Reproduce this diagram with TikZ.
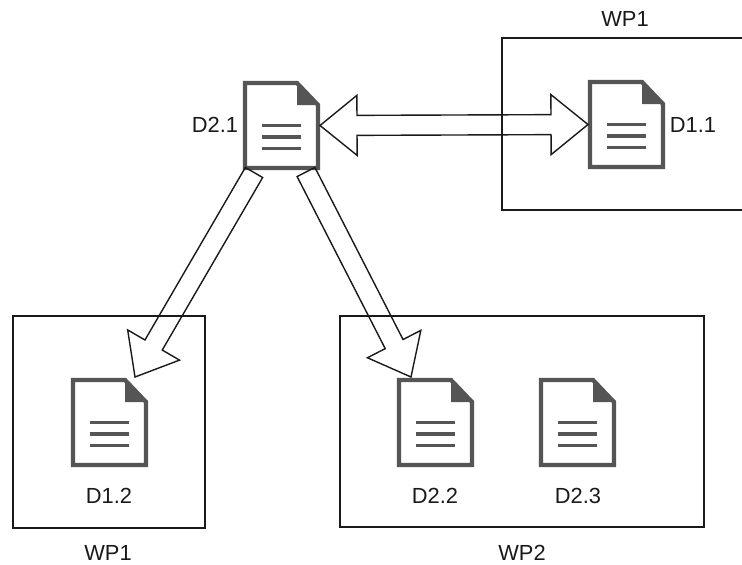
\documentclass[tikz,border=0pt]{standalone}
\usepackage{fontspec}
\setmainfont{Liberation Sans}
\usetikzlibrary{calc}
\definecolor{icongrey}{HTML}{555555}
\definecolor{inkgrey}{HTML}{1A1A1A}
\newcommand{\HdBase}[3]{($($(#1)!27.75pt!(#2)$)!#3!90:(#2)$)}
\tikzset{
  x=0.75pt,y=-0.75pt,
  wpbox/.style={draw=inkgrey,line width=1.05pt,minimum width=0pt,inner sep=0pt,outer sep=0pt},
  lbl/.style={font=\fontsize{16.4}{19}\selectfont,text=inkgrey,inner sep=0pt},
  iconbox/.style={minimum width=57.75pt,minimum height=66.75pt,inner sep=0pt,outer sep=0pt},
  docicon/.pic={
    \node[iconbox] (-box) at (38.5,44.5) {};
    \draw[icongrey,line width=3.2pt,miter limit=3,fill=white] (2,2) -- (54,2) -- (75,24) -- (75,87) -- (2,87) -- cycle;
    \fill[icongrey] (54,2) -- (75,24) -- (54,24) -- cycle;
    \draw[icongrey,line width=2.6pt] (19,44.5) -- (58,44.5) (19,56) -- (58,56) (19,67.5) -- (58,67.5);
  },
  blockarrow/.style={draw=inkgrey,line width=1.05pt,line join=miter,to path={
    -- ($(\tikztostart)!7.5pt!90:(\tikztotarget)$)
    -- \HdBase{\tikztotarget}{\tikztostart}{-7.5pt}
    -- \HdBase{\tikztotarget}{\tikztostart}{-22.5pt}
    -- (\tikztotarget)
    -- \HdBase{\tikztotarget}{\tikztostart}{22.5pt}
    -- \HdBase{\tikztotarget}{\tikztostart}{7.5pt}
    -- ($(\tikztostart)!7.5pt!-90:(\tikztotarget)$)
    -- cycle}},
  twowayarrow/.style={draw=inkgrey,line width=1.05pt,line join=miter,to path={
    -- \HdBase{\tikztostart}{\tikztotarget}{22.5pt}
    -- \HdBase{\tikztostart}{\tikztotarget}{7.5pt}
    -- \HdBase{\tikztotarget}{\tikztostart}{-7.5pt}
    -- \HdBase{\tikztotarget}{\tikztostart}{-22.5pt}
    -- (\tikztotarget)
    -- \HdBase{\tikztotarget}{\tikztostart}{22.5pt}
    -- \HdBase{\tikztotarget}{\tikztostart}{7.5pt}
    -- \HdBase{\tikztostart}{\tikztotarget}{-7.5pt}
    -- \HdBase{\tikztostart}{\tikztotarget}{-22.5pt}
    -- cycle}},
}
\begin{document}
\begin{tikzpicture}
\useasboundingbox (0,0) rectangle (742,564);
\fill[white] (0,0) rectangle (742,564);
% work-package frames
\node[wpbox,anchor=north west,minimum width=183pt,minimum height=129pt] (boxa) at (502,38) {};
\node[wpbox,anchor=north west,minimum width=144pt,minimum height=159pt] (boxb) at (13,316) {};
\node[wpbox,anchor=north west,minimum width=273pt,minimum height=158.25pt] (boxc) at (340,316) {};
% documents
\pic (d21) at (243,81) {docicon};
\pic (d11) at (588,80) {docicon};
\pic (d12) at (71,378) {docicon};
\pic (d22) at (397,378) {docicon};
\pic (d23) at (539,378) {docicon};
% labels
\node[lbl] (l21) at (215,125) {D2.1};
\node[lbl] (l11) at (693,125) {D1.1};
\node[lbl] (l12) at (109,496) {D1.2};
\node[lbl] (l22) at (435,496) {D2.2};
\node[lbl] (l23) at (578,496) {D2.3};
\node[lbl] (wa) at (625,19) {WP1};
\node[lbl] (wb) at (108,553) {WP1};
\node[lbl] (wc) at (522,553) {WP2};
% connectors
\coordinate (s1) at (254,172.5);
\coordinate (t1) at (135,377);
\coordinate (s2) at (306,172);
\coordinate (t2) at (411,377);
\draw[twowayarrow] (d21-box.east) to (d11-box.west);
\draw[blockarrow] (s1) to (t1);
\draw[blockarrow] (s2) to (t2);
\end{tikzpicture}
\end{document}
